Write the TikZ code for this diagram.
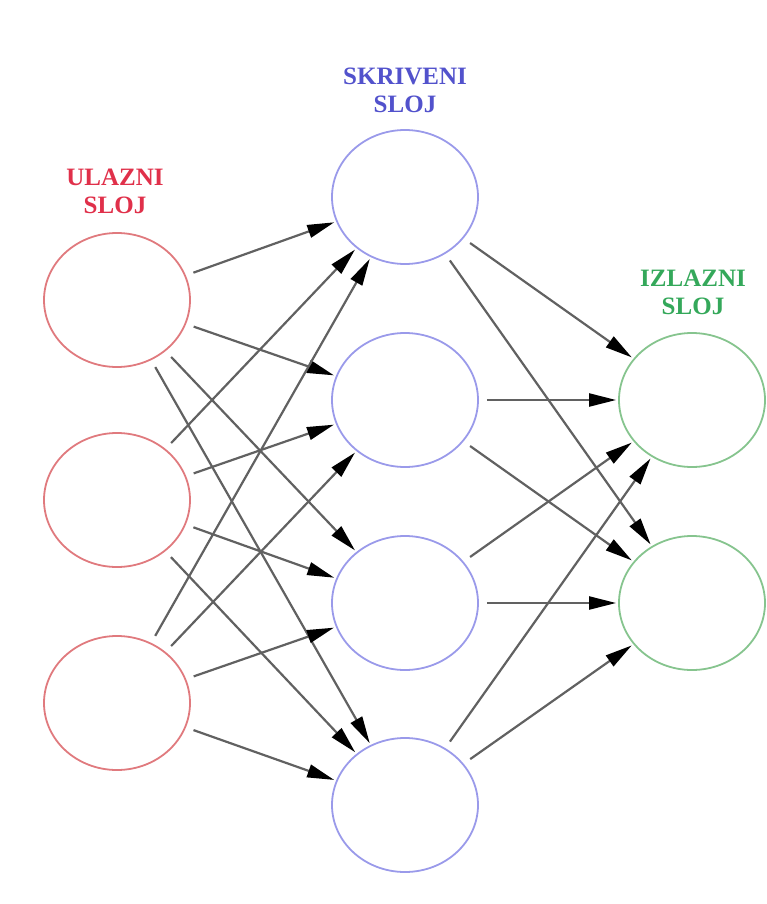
\documentclass[tikz,border=0pt]{standalone}
\usepackage{fontspec}
\setmainfont{Liberation Serif}
\usetikzlibrary{shapes.geometric,arrows.meta}
\definecolor{inred}{HTML}{E07A7E}
\definecolor{hidblue}{HTML}{9A9AEA}
\definecolor{outgreen}{HTML}{86C48E}
\definecolor{txtred}{HTML}{E0304A}
\definecolor{txtblue}{HTML}{5252CC}
\definecolor{txtgreen}{HTML}{34A85A}
\tikzset{
  neuron/.style={ellipse, draw, line width=1.8pt, minimum width=146pt, minimum height=134pt, inner sep=0pt},
  innode/.style={neuron, draw=inred},
  hidnode/.style={neuron, draw=hidblue},
  outnode/.style={neuron, draw=outgreen},
  layerlabel/.style={font=\fontsize{25}{28}\selectfont\bfseries, align=center, inner sep=0pt},
  conn/.style={draw=black!62, line width=2.2pt, shorten <=8pt, shorten >=2pt, -{Triangle[length=27pt,width=13pt,color=black]}}
}
\begin{document}
\begin{tikzpicture}[x=1pt,y=-1pt]
\useasboundingbox (0,0) rectangle (766,904);
\node[innode] (i1) at (117,300) {};
\node[innode] (i2) at (117,500) {};
\node[innode] (i3) at (117,703) {};
\node[hidnode] (h1) at (405,197) {};
\node[hidnode] (h2) at (405,400) {};
\node[hidnode] (h3) at (405,603) {};
\node[hidnode] (h4) at (405,805) {};
\node[outnode] (o1) at (692,400) {};
\node[outnode] (o2) at (692,603) {};
\node[layerlabel, text=txtred] (li) at (115,191) {ULAZNI\\SLOJ};
\node[layerlabel, text=txtblue] (lh) at (405,90) {SKRIVENI\\SLOJ};
\node[layerlabel, text=txtgreen] (lo) at (693,292) {IZLAZNI\\SLOJ};
\foreach \i in {i1,i2,i3}{
  \foreach \h in {h1,h2,h3,h4}{
    \draw[conn] (\i) -- (\h);
  }
}
\foreach \h in {h1,h2,h3,h4}{
  \foreach \o in {o1,o2}{
    \draw[conn] (\h) -- (\o);
  }
}
\end{tikzpicture}
\end{document}
